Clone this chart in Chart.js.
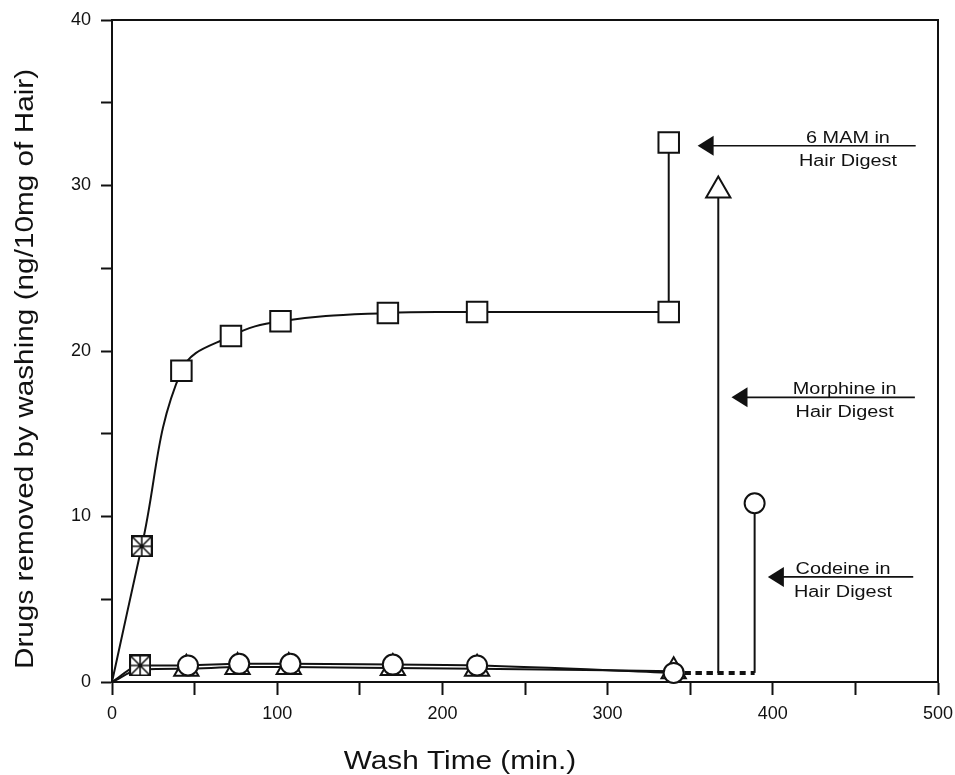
<!DOCTYPE html>
<html>
<head>
<meta charset="utf-8">
<script src="https://cdn.jsdelivr.net/npm/chart.js@4.4.1/dist/chart.umd.min.js"></script>
<style>
  html, body { margin: 0; padding: 0; background: #fff; }
  canvas { display: block; }
</style>
</head>
<body>
<canvas id="chart" width="955" height="775"></canvas>
<script>
const ink = "#111";
const font = "'Liberation Sans', Arial, Helvetica, sans-serif";

// 6 MAM removed by washing, then hair digest
const mamWashX = [0, 18, 42, 72, 102, 167, 221, 337];
const mamWashY = [0, 8.2, 18.8, 20.9, 21.8, 22.3, 22.35, 22.35];
const mamDigestX = [337, 337];
const mamDigestY = [22.35, 32.6];

// morphine
const morWashX = [0, 17, 45, 76, 107, 170, 221, 340];
const morWashY = [0, 0.75, 0.8, 0.9, 0.9, 0.85, 0.8, 0.65];
const morDigestX = [340, 367, 367];
const morDigestY = [0.55, 0.55, 29.7];

// codeine
const codWashX = [0, 17, 46, 77, 108, 170, 221, 340];
const codWashY = [0, 1.0, 1.0, 1.1, 1.1, 1.05, 1.0, 0.55];
const codDigestX = [340, 389, 389];
const codDigestY = [0.55, 0.55, 10.8];

// arrow notes on the right
const noteLines = [["6 MAM in", "Hair Digest"], ["Morphine in", "Hair Digest"], ["Codeine in", "Hair Digest"]];
const noteY = [32.4, 17.2, 6.35];
const noteTipX = [354.5, 375, 397];
const noteEndX = [486.5, 486, 485];
const noteTextX = [445.5, 443.5, 442.5];

const xTicksStep = 50;
const yTicksStep = 5;

const pts = (xs, ys) => xs.map((x, i) => ({ x, y: ys[i] }));

function starBox(size) {
  const c = document.createElement("canvas");
  c.width = size; c.height = size;
  const g = c.getContext("2d");
  g.fillStyle = "#fff";
  g.fillRect(1, 1, size - 2, size - 2);
  g.strokeStyle = ink;
  g.lineWidth = 2;
  g.strokeRect(1, 1, size - 2, size - 2);
  g.lineWidth = 1.6;
  g.beginPath();
  g.moveTo(2, 2); g.lineTo(size - 2, size - 2);
  g.moveTo(size - 2, 2); g.lineTo(2, size - 2);
  g.moveTo(size / 2, 2); g.lineTo(size / 2, size - 2);
  g.moveTo(2, size / 2); g.lineTo(size - 2, size / 2);
  g.stroke();
  return c;
}
const star = starBox(22);

const digestSegment = {
  borderDash: c => c.p0DataIndex === 0 ? [6, 5] : undefined,
  borderWidth: c => c.p0DataIndex === 0 ? 4 : 2
};

const base = {
  showLine: true,
  borderColor: ink,
  borderWidth: 2,
  pointBackgroundColor: "#fff",
  pointBorderColor: ink,
  pointBorderWidth: 2,
  clip: false
};

function stretchText(ctx, text, x, y, sx) {
  ctx.save();
  ctx.translate(x, y);
  ctx.scale(sx, 1);
  ctx.fillText(text, 0, 0);
  ctx.restore();
}

const decor = {
  id: "decor",
  afterDraw(chart) {
    const { ctx, chartArea: a, scales: { x, y } } = chart;
    ctx.save();
    ctx.strokeStyle = ink;
    ctx.fillStyle = ink;
    ctx.lineWidth = 2;
    ctx.beginPath();
    ctx.moveTo(a.left, a.top);
    ctx.lineTo(a.right, a.top);
    ctx.lineTo(a.right, a.bottom);
    ctx.stroke();

    // notes with arrows
    ctx.font = "16px " + font;
    ctx.textAlign = "center";
    ctx.textBaseline = "alphabetic";
    noteLines.forEach((lines, i) => {
      const yy = y.getPixelForValue(noteY[i]);
      const tip = x.getPixelForValue(noteTipX[i]);
      const end = x.getPixelForValue(noteEndX[i]);
      ctx.lineWidth = 1.6;
      ctx.beginPath();
      ctx.moveTo(tip + 14, yy);
      ctx.lineTo(end, yy);
      ctx.stroke();
      ctx.beginPath();
      ctx.moveTo(tip, yy);
      ctx.lineTo(tip + 16, yy - 10);
      ctx.lineTo(tip + 16, yy + 10);
      ctx.closePath();
      ctx.fill();
      const tx = x.getPixelForValue(noteTextX[i]);
      stretchText(ctx, lines[0], tx, yy - 3, 1.24);
      stretchText(ctx, lines[1], tx, yy + 20, 1.24);
    });

    // axis titles
    ctx.font = "25px " + font;
    stretchText(ctx, "Wash Time (min.)", 460, 769, 1.19);
    ctx.save();
    ctx.translate(33, 369);
    ctx.rotate(-Math.PI / 2);
    stretchText(ctx, "Drugs removed by washing (ng/10mg of Hair)", 0, 0, 1.19);
    ctx.restore();
    ctx.restore();
  }
};

new Chart(document.getElementById("chart"), {
  type: "scatter",
  data: {
    datasets: [
      {
        ...base,
        label: "Codeine",
        data: pts(codWashX, codWashY),
        cubicInterpolationMode: "monotone",
        pointStyle: codWashX.map((_, i) => i === 1 ? star : "circle"),
        pointRadius: codWashX.map((_, i) => i === 0 ? 0 : (i === 1 ? 11 : 10))
      },
      {
        ...base,
        label: "Morphine",
        data: pts(morWashX, morWashY),
        cubicInterpolationMode: "monotone",
        pointStyle: "triangle",
        pointRadius: morWashX.map((_, i) => i < 2 ? 0 : 14)
      },
      {
        ...base,
        label: "Codeine digest",
        data: pts(codDigestX, codDigestY),
        segment: digestSegment,
        pointStyle: "circle",
        pointRadius: codDigestX.map((_, i) => i === codDigestX.length - 1 ? 10 : 0)
      },
      {
        ...base,
        label: "Morphine digest",
        data: pts(morDigestX, morDigestY),
        segment: digestSegment,
        pointStyle: "triangle",
        pointRadius: morDigestX.map((_, i) => i === morDigestX.length - 1 ? 14 : 0)
      },
      {
        ...base,
        label: "6 MAM",
        data: pts(mamWashX, mamWashY),
        tension: 0.4,
        pointStyle: mamWashX.map((_, i) => i === 1 ? star : "rect"),
        pointRadius: mamWashX.map((_, i) => i === 0 ? 0 : (i === 1 ? 11 : 14.5))
      },
      {
        ...base,
        label: "6 MAM digest",
        data: pts(mamDigestX, mamDigestY),
        pointStyle: "rect",
        pointRadius: [0, 14.5]
      }
    ]
  },
  options: {
    responsive: false,
    animation: false,
    events: [],
    layout: { padding: { top: 20, right: 17, bottom: 0, left: 0 } },
    plugins: { legend: { display: false }, tooltip: { enabled: false } },
    scales: {
      x: {
        type: "linear",
        min: 0,
        max: 500,
        afterFit: s => { s.height = 93; s.paddingLeft = 0; s.paddingRight = 0; },
        border: { display: true, color: ink, width: 2 },
        grid: { drawOnChartArea: false, drawTicks: true, tickLength: 13, tickWidth: 2, tickColor: ink },
        ticks: {
          stepSize: xTicksStep,
          autoSkip: false,
          maxRotation: 0,
          padding: 8,
          color: ink,
          font: { family: font, size: 18 },
          callback: v => v % 100 === 0 ? v : ""
        }
      },
      y: {
        min: 0,
        max: 40,
        afterFit: s => { s.width = 112; s.paddingTop = 0; s.paddingBottom = 0; },
        border: { display: true, color: ink, width: 2 },
        grid: { drawOnChartArea: false, drawTicks: true, tickLength: 11, tickWidth: 2, tickColor: ink },
        ticks: {
          stepSize: yTicksStep,
          autoSkip: false,
          padding: 10,
          color: ink,
          font: { family: font, size: 18 },
          callback: v => v % 10 === 0 ? v : ""
        }
      }
    }
  },
  plugins: [decor]
});
</script>
</body>
</html>
